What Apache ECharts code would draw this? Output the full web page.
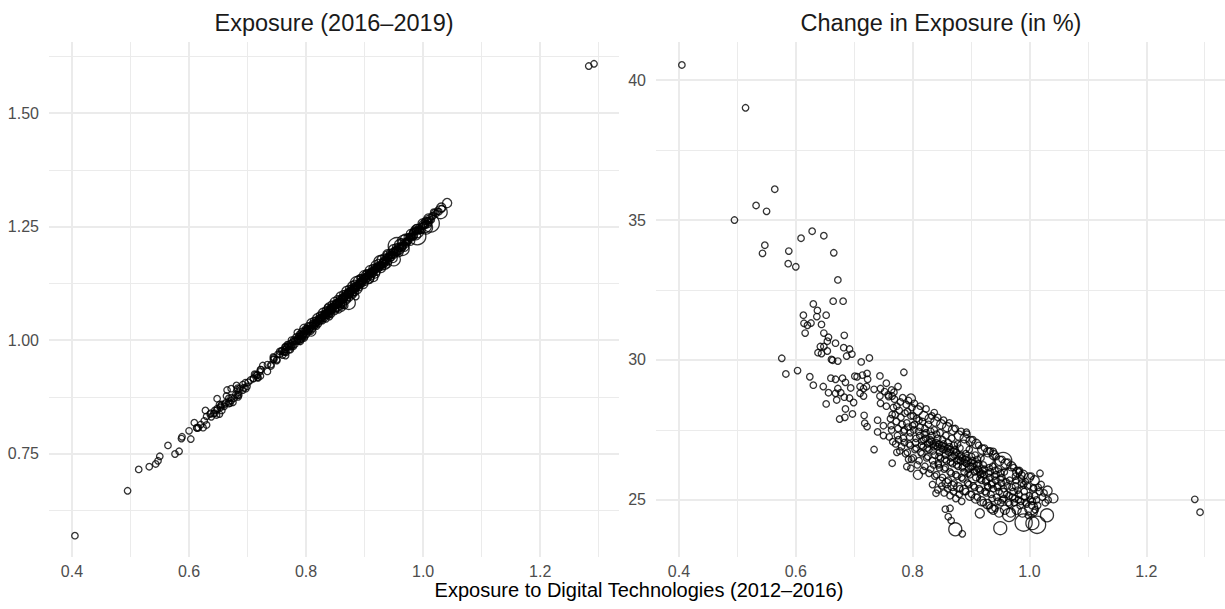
<!DOCTYPE html>
<html><head><meta charset="utf-8">
<script src="https://cdn.jsdelivr.net/npm/echarts@6/dist/echarts.min.js"></script>
<style>html,body{margin:0;padding:0;background:#fff;}#chart{width:1225px;height:609px;}</style>
</head><body><div id="chart"></div>
<script>
// Exposure to digital technologies 2012–2016 (x, shared by both panels)
const expo1216 = [
0.405,0.514,0.564,0.495,0.532,0.550,0.547,0.543,0.588,0.587,
0.600,0.609,0.628,0.648,0.665,0.672,0.664,0.681,0.630,0.637,
0.613,0.652,0.636,0.614,0.620,0.626,0.644,0.616,0.648,0.656,
0.654,0.683,0.668,0.642,0.648,0.682,0.692,0.638,0.644,0.654,
0.687,0.696,0.576,0.661,0.663,0.672,0.726,0.712,0.583,0.603,
0.624,0.630,0.647,0.660,0.668,0.680,0.685,0.701,0.705,0.714,
0.722,0.723,0.744,0.755,0.775,0.785,0.656,0.668,0.677,0.672,
0.694,0.710,0.716,0.721,0.734,0.745,0.752,0.764,0.765,0.710,
0.716,0.744,0.759,0.797,0.670,0.683,0.692,0.699,0.652,0.685,
0.675,0.684,0.697,0.717,0.718,0.722,0.734,0.740,0.765,0.750,
0.766,0.773,0.793,0.790,0.797,0.809,0.837,0.840,0.843,0.892,
0.938,0.955,0.982,0.987,1.007,1.031,1.041,1.009,0.856,0.864,
0.861,0.866,0.873,0.885,0.950,0.915,0.935,0.965,0.990,1.005,
1.013,1.030,1.003,1.283,1.292,0.990,
0.762,0.767,0.764,0.769,
0.772,0.777,0.774,0.779,0.771,
0.782,0.787,0.784,0.789,0.781,0.786,
0.792,0.797,0.794,0.799,0.791,0.796,
0.802,0.807,0.804,0.809,0.801,0.806,0.803,
0.812,0.817,0.814,0.819,0.811,0.816,0.813,0.818,
0.822,0.827,0.824,0.829,0.821,0.826,0.823,0.828,
0.832,0.837,0.834,0.839,0.831,0.836,0.833,0.838,0.835,
0.842,0.847,0.844,0.849,0.841,0.846,0.843,0.848,0.845,
0.852,0.857,0.854,0.859,0.851,0.856,0.853,0.858,0.855,0.850,
0.862,0.867,0.864,0.869,0.861,0.866,0.863,0.868,0.865,0.860,
0.872,0.877,0.874,0.879,0.871,0.876,0.873,0.878,0.875,0.870,
0.882,0.887,0.884,0.889,0.881,0.886,0.883,0.888,0.885,0.880,
0.892,0.897,0.894,0.899,0.891,0.896,0.893,0.898,0.895,
0.902,0.907,0.904,0.909,0.901,0.906,0.903,0.908,0.905,
0.912,0.917,0.914,0.919,0.911,0.916,0.913,0.918,0.915,
0.922,0.927,0.924,0.929,0.921,0.926,0.923,0.928,
0.932,0.937,0.934,0.939,0.931,0.936,0.933,0.938,
0.942,0.947,0.944,0.949,0.941,0.946,0.943,0.948,
0.952,0.957,0.954,0.959,0.951,0.956,0.953,
0.962,0.967,0.964,0.969,0.961,0.966,
0.972,0.977,0.974,0.979,0.971,0.976,
0.982,0.987,0.984,0.989,0.981,
0.992,0.997,0.994,0.999,0.991,
1.002,1.007,1.004,1.009,
1.012,1.017,1.014,
1.022,1.027,
1.032,
0.745,0.740,
0.755,0.750,0.758,
0.765,0.760,0.768,0.763,
0.775,0.770,0.778,0.773,0.776,
0.785,0.780,0.788,0.783,0.786,
0.795,0.790,0.798,0.793,0.796,0.791,
0.805,0.800,0.808,0.803,0.806,0.801,
0.815,0.810,0.818,0.813,0.816,0.811,0.819,
0.825,0.820,0.828,0.823,0.826,0.821,0.829,
0.835,0.830,0.838,0.833,0.836,0.831,0.839,0.834,
0.845,0.840,0.848,0.843,0.846,0.841,0.849,0.844,
0.855,0.850,0.858,0.853,0.856,0.851,0.859,0.854,
0.865,0.860,0.868,0.863,0.866,0.861,0.869,0.864,
0.875,0.870,0.878,0.873,0.876,0.871,0.879,0.874,
0.885,0.880,0.888,0.883,0.886,0.881,0.889,0.884,
0.895,0.890,0.898,0.893,0.896,0.891,0.899,
0.905,0.900,0.908,0.903,0.906,0.901,0.909,
0.915,0.910,0.918,0.913,0.916,0.911,0.919,
0.925,0.920,0.928,0.923,0.926,0.921,0.929,
0.935,0.930,0.938,0.933,0.936,0.931,
0.945,0.940,0.948,0.943,0.946,0.941,
0.955,0.950,0.958,0.953,0.956,0.951,
0.965,0.960,0.968,0.963,0.966,
0.975,0.970,0.978,0.973,0.976,
0.985,0.980,0.988,0.983,0.986,
0.995,0.990,0.998,0.993,
1.005,1.000,1.008,1.003,
1.015,1.010,1.018,
1.025,1.020
];
// Exposure 2016–2019 (left panel y)
const expo1619 = [
0.569,0.715,0.768,0.668,0.721,0.744,0.734,0.727,0.787,0.783,
0.800,0.818,0.845,0.871,0.890,0.893,0.877,0.900,0.832,0.839,
0.807,0.858,0.837,0.806,0.814,0.822,0.845,0.807,0.849,0.858,
0.855,0.894,0.872,0.838,0.846,0.890,0.902,0.831,0.839,0.852,
0.894,0.906,0.749,0.859,0.862,0.873,0.944,0.925,0.755,0.782,
0.807,0.813,0.835,0.854,0.864,0.880,0.885,0.907,0.912,0.924,
0.935,0.935,0.963,0.975,1.000,1.017,0.845,0.860,0.872,0.867,
0.895,0.916,0.923,0.930,0.946,0.961,0.969,0.985,0.985,0.915,
0.922,0.958,0.977,1.025,0.861,0.879,0.890,0.898,0.837,0.879,
0.863,0.875,0.893,0.918,0.917,0.921,0.931,0.943,0.966,0.955,
0.973,0.979,1.003,0.997,1.005,1.019,1.072,1.052,1.057,1.137,
1.189,1.207,1.237,1.243,1.263,1.292,1.302,1.263,1.067,1.077,
1.071,1.076,1.082,1.096,1.178,1.139,1.166,1.201,1.229,1.248,
1.257,1.282,1.251,1.604,1.609,1.243,
0.975,0.984,0.974,0.989,
0.987,0.996,0.985,1.001,0.979,
0.999,1.008,0.997,1.013,0.991,1.002,
1.011,1.020,1.008,1.025,1.002,1.014,
1.023,1.032,1.019,1.037,1.013,1.025,1.025,
1.034,1.044,1.031,1.048,1.025,1.037,1.037,1.038,
1.046,1.056,1.042,1.060,1.036,1.049,1.049,1.050,
1.057,1.067,1.054,1.072,1.048,1.061,1.060,1.061,1.060,
1.068,1.079,1.066,1.084,1.059,1.072,1.072,1.073,1.073,
1.080,1.091,1.077,1.096,1.071,1.084,1.083,1.085,1.085,1.067,
1.092,1.103,1.089,1.108,1.082,1.095,1.095,1.096,1.097,1.078,
1.104,1.114,1.100,1.119,1.094,1.107,1.107,1.108,1.109,1.090,
1.115,1.126,1.112,1.131,1.105,1.118,1.118,1.119,1.120,1.102,
1.127,1.137,1.123,1.143,1.116,1.130,1.130,1.131,1.131,
1.138,1.148,1.135,1.154,1.128,1.142,1.141,1.142,1.143,
1.150,1.160,1.146,1.165,1.140,1.153,1.153,1.154,1.153,
1.161,1.172,1.158,1.177,1.150,1.164,1.164,1.165,
1.172,1.182,1.169,1.189,1.162,1.176,1.176,1.176,
1.184,1.194,1.181,1.200,1.173,1.187,1.187,1.188,
1.196,1.206,1.193,1.211,1.188,1.199,1.199,
1.207,1.217,1.204,1.223,1.203,1.214,
1.218,1.228,1.217,1.234,1.215,1.225,
1.229,1.240,1.228,1.245,1.226,
1.241,1.251,1.242,1.257,1.242,
1.253,1.263,1.253,1.268,
1.265,1.274,1.265,
1.279,1.283,
1.290,
0.957,0.946,
0.969,0.957,0.976,
0.980,0.967,0.990,0.974,
0.989,0.986,0.986,0.992,0.987,
1.000,0.998,0.998,1.007,0.999,
1.012,1.009,1.009,1.019,1.011,1.014,
1.023,1.021,1.020,1.031,1.022,1.025,
1.035,1.032,1.031,1.043,1.033,1.037,1.041,
1.047,1.044,1.043,1.055,1.045,1.047,1.053,
1.058,1.055,1.055,1.066,1.055,1.059,1.065,1.047,
1.069,1.067,1.066,1.079,1.067,1.071,1.077,1.066,
1.081,1.079,1.078,1.091,1.080,1.082,1.089,1.070,
1.093,1.091,1.089,1.102,1.091,1.094,1.100,1.081,
1.105,1.103,1.101,1.114,1.102,1.106,1.111,1.093,
1.116,1.114,1.113,1.125,1.114,1.118,1.123,1.105,
1.127,1.125,1.124,1.137,1.125,1.128,1.135,
1.139,1.137,1.135,1.148,1.137,1.140,1.146,
1.151,1.149,1.147,1.159,1.148,1.152,1.157,
1.162,1.160,1.159,1.171,1.160,1.163,1.165,
1.174,1.171,1.169,1.183,1.170,1.174,
1.186,1.183,1.181,1.193,1.182,1.186,
1.196,1.195,1.194,1.205,1.195,1.198,
1.208,1.206,1.206,1.217,1.206,
1.219,1.217,1.219,1.227,1.228,
1.231,1.228,1.231,1.239,1.240,
1.242,1.240,1.242,1.248,
1.256,1.252,1.255,1.262,
1.273,1.259,1.282,
1.284,1.281
];
// Change in exposure, % (right panel y)
const changePct = [
40.54,39.01,36.10,35.00,35.52,35.31,34.10,33.81,33.89,33.44,
33.33,34.35,34.60,34.44,33.83,32.86,32.10,32.10,32.00,31.77,
31.60,31.60,31.55,31.31,31.24,31.32,31.27,30.96,30.96,30.81,
30.67,30.88,30.60,30.48,30.48,30.44,30.39,30.26,30.23,30.32,
30.14,30.21,30.06,30.02,29.99,29.96,30.07,29.93,29.50,29.62,
29.40,29.10,29.05,29.35,29.31,29.35,29.20,29.42,29.40,29.46,
29.52,29.31,29.43,29.17,29.05,29.56,28.83,28.81,28.83,28.98,
29.00,29.05,28.98,29.05,28.95,28.98,28.87,28.93,28.71,28.81,
28.71,28.71,28.69,28.62,28.57,28.67,28.64,28.48,28.43,28.25,
27.89,27.95,28.07,28.02,27.74,27.62,26.80,27.43,26.31,27.30,
27.08,26.70,26.45,26.19,26.13,25.90,28.12,25.24,25.36,27.42,
26.73,26.39,26.00,25.89,25.44,25.33,25.06,25.15,24.67,24.70,
24.40,24.26,23.95,23.79,23.99,24.52,24.70,24.46,24.19,24.17,
24.11,24.45,24.70,25.02,24.56,25.54,
27.9,28.3,27.5,28.6,
27.8,28.2,27.3,28.5,27.0,
27.7,28.1,27.2,28.4,26.9,27.5,
27.6,28.0,27.0,28.3,26.7,27.4,
27.5,27.9,26.8,28.2,26.5,27.2,27.7,
27.3,27.8,26.7,28.0,26.4,27.1,27.6,26.9,
27.2,27.7,26.5,27.9,26.2,27.0,27.4,26.8,
27.1,27.5,26.4,27.8,26.1,26.9,27.3,26.6,27.0,
26.9,27.4,26.3,27.7,25.9,26.7,27.2,26.5,27.0,
26.8,27.3,26.1,27.6,25.8,26.6,27.0,26.4,26.9,25.5,
26.7,27.2,26.0,27.5,25.7,26.5,26.9,26.3,26.8,25.4,
26.6,27.0,25.9,27.3,25.6,26.4,26.8,26.2,26.7,25.3,
26.4,26.9,25.8,27.2,25.4,26.2,26.6,26.0,26.5,25.2,
26.3,26.8,25.6,27.1,25.3,26.1,26.5,25.9,26.4,
26.2,26.6,25.5,27.0,25.2,26.0,26.4,25.8,26.3,
26.1,26.5,25.4,26.8,25.1,25.9,26.3,25.7,26.0,
25.9,26.4,25.3,26.7,24.9,25.7,26.1,25.5,
25.8,26.2,25.2,26.6,24.8,25.6,26.0,25.4,
25.7,26.1,25.1,26.4,24.7,25.5,25.9,25.3,
25.6,26.0,25.0,26.3,24.9,25.4,25.8,
25.5,25.9,24.9,26.2,25.2,25.7,
25.3,25.7,24.9,26.0,25.1,25.5,
25.2,25.6,24.8,25.9,25.0,
25.1,25.5,24.9,25.8,25.3,
25.0,25.4,24.8,25.7,
25.0,25.3,24.8,
25.1,24.9,
25.0,
28.45,27.85,
28.35,27.65,28.75,
28.05,27.25,28.85,27.65,
27.55,28.05,26.75,28.35,27.15,
27.45,27.95,26.65,28.65,27.05,
27.25,27.75,26.45,28.55,26.95,28.15,
27.05,27.65,26.25,28.45,26.85,28.00,
26.95,27.45,26.05,28.35,26.65,27.85,27.15,
26.85,27.35,25.95,28.25,26.55,27.55,27.05,
26.75,27.15,25.85,28.00,26.25,27.45,26.95,25.55,
26.55,27.05,25.65,27.95,26.15,27.35,26.85,26.25,
26.45,26.95,25.60,27.85,26.15,27.15,26.75,25.25,
26.35,26.85,25.50,27.75,25.95,27.05,26.55,25.15,
26.25,26.75,25.45,27.55,25.85,26.95,26.45,25.05,
26.15,26.55,25.35,27.45,25.75,26.85,26.35,24.95,
25.95,26.45,25.15,27.35,25.55,26.65,26.20,
25.85,26.35,25.05,27.15,25.45,26.55,26.05,
25.75,26.25,24.95,26.95,25.35,26.45,25.95,
25.65,26.05,24.85,26.85,25.25,26.25,25.45,
25.55,25.95,24.65,26.75,25.05,26.15,
25.45,25.85,24.55,26.55,24.95,26.05,
25.25,25.75,24.65,26.45,25.05,25.95,
25.15,25.65,24.55,26.35,24.85,
25.05,25.45,24.65,26.15,25.85,
24.95,25.35,24.55,26.05,25.75,
24.85,25.25,24.45,25.65,
24.95,25.15,24.55,25.85,
25.45,24.65,25.95,
25.25,25.55
];
// Relative weight of each region (drives circle area)
const weight = [
1,1,1,1,1,1,1,1,1,1,
1,1,1,1,1,1,1,1,1,1,
1,1,1,1,1,1,1,1,1,1,
1,1,1,1,1,1,1,1,1,1,
1,1,1,1,1,1,1,1,1,1,
1,1,1,1,1,1,1,1,1,1,
1,1,1,1,1,1,1,1,1,1,
1,1,1,1,1,1,1,1,1,1,
1,1,1,2,1,1,1,1,1,1,
1,1,1,1,1,1,1,1,1,1,
1,1,1,1,1,2,1,1,1,1,
1,7,1,1,1,2,2,1,1,1,
1,1,4,1,4,2,2,4,7,4,
7,4,4,1,1,1,
1,1,1,1,
1,1,1,1,1,
1,1,1,1,1,1,
1,1,1,1,1,1,
1,1,1,2,1,1,1,
1,1,1,2,1,1,1,1,
1,1,1,2,1,1,1,1,
1,1,1,2,1,1,1,1,1,
1,1,1,2,1,1,1,1,1,
1,1,1,2,1,1,1,1,1,1,
1,1,1,2,1,1,1,1,1,1,
1,1,1,2,1,1,1,1,1,1,
1,4,1,2,1,1,1,1,1,1,
1,1,1,2,1,1,1,1,1,
1,1,1,2,1,1,1,1,1,
1,1,1,2,1,1,1,1,1,
1,4,1,2,1,1,1,1,
1,1,1,2,1,1,1,1,
1,1,1,2,1,1,1,1,
1,1,1,2,1,1,1,
1,4,1,2,1,1,
1,1,1,2,1,1,
1,1,1,2,1,
1,1,1,2,1,
1,1,1,2,
1,1,1,
1,1,
1,
1,1,
1,1,1,
1,1,1,1,
1,1,1,1,1,
1,1,1,1,1,
1,1,1,1,1,1,
1,1,1,1,1,1,
1,1,1,1,1,1,1,
1,1,1,1,1,1,1,
1,1,1,1,1,1,1,1,
1,1,2,1,1,1,1,1,
1,1,2,1,1,1,1,1,
1,1,2,1,1,1,1,1,
1,1,2,1,1,1,1,1,
1,1,2,1,1,1,1,1,
1,1,2,1,1,1,1,
4,1,2,1,1,1,1,
1,1,2,1,1,1,1,
1,1,2,1,1,1,1,
1,1,2,1,1,1,
1,1,2,1,1,1,
2,1,2,1,1,1,
1,1,2,1,1,
1,1,2,1,1,
1,1,2,1,1,
1,4,1,1,
1,1,1,1,
1,1,1,
1,1
];

const xMajorTicks = [0.4, 0.6, 0.8, 1.0, 1.2];
const xMinorTicks = [0.5, 0.7, 0.9, 1.1, 1.3];
const yLeftMajor = [0.75, 1.00, 1.25, 1.50];
const yLeftMinor = [0.625, 0.875, 1.125, 1.375, 1.625];
const yRightMajor = [25, 30, 35, 40];
const yRightMinor = [27.5, 32.5, 37.5];

const titleLeft = 'Exposure (2016–2019)';
const titleRight = 'Change in Exposure (in %)';
const xTitle = 'Exposure to Digital Technologies (2012–2016)';

const FONT = '"Liberation Sans", Arial, Helvetica, sans-serif';
const GRID_COLOR = '#ebebeb';
const X_RANGE = [0.3607, 1.3347];
const YL_RANGE = [0.522, 1.657];
const YR_RANGE = [22.96, 41.36];

function mkAxis(dim, gridIndex, range, values, major, fmt) {
  return {
    type: 'value', gridIndex: gridIndex, min: range[0], max: range[1],
    position: dim === 'x' ? 'bottom' : 'left',
    scale: true,
    axisLine: { show: false },
    axisTick: { show: false, customValues: values },
    axisLabel: { show: major, customValues: values, formatter: fmt, color: '#4d4d4d',
      fontSize: 16, fontFamily: FONT, margin: dim === 'x' ? 6 : 10 },
    splitLine: { show: true, lineStyle: { color: GRID_COLOR, width: major ? 2 : 1 } },
    minorSplitLine: { show: false },
    splitArea: { show: false }
  };
}
const fx = v => Number(v).toFixed(1);
const fyl = v => Number(v).toFixed(2);
const fyr = v => String(Math.round(v));

const n = Math.min(expo1216.length, expo1619.length, changePct.length, weight.length);
const leftData = [], rightData = [];
for (let i = 0; i < n; i++) {
  leftData.push([expo1216[i], expo1619[i], weight[i]]);
  rightData.push([expo1216[i], changePct[i], weight[i]]);
}
const sym = v => 6.5 * Math.sqrt(v[2]);
const pointStyle = { color: 'rgba(0,0,0,0)', borderColor: '#000', borderWidth: 1.3 };

const chart = echarts.init(document.getElementById('chart'), null, { renderer: 'svg', width: 1225, height: 609 });
chart.setOption({
  backgroundColor: '#ffffff',
  animation: false,
  grid: [
    { left: 49, top: 42, width: 570, height: 515, outerBoundsMode: 'none', containLabel: false },
    { left: 656, top: 42, width: 569, height: 515, outerBoundsMode: 'none', containLabel: false }
  ],
  xAxis: [
    mkAxis('x', 0, X_RANGE, xMajorTicks, true, fx),
    mkAxis('x', 0, X_RANGE, xMinorTicks, false, fx),
    mkAxis('x', 1, X_RANGE, xMajorTicks, true, fx),
    mkAxis('x', 1, X_RANGE, xMinorTicks, false, fx)
  ],
  yAxis: [
    mkAxis('y', 0, YL_RANGE, yLeftMajor, true, fyl),
    mkAxis('y', 0, YL_RANGE, yLeftMinor, false, fyl),
    mkAxis('y', 1, YR_RANGE, yRightMajor, true, fyr),
    mkAxis('y', 1, YR_RANGE, yRightMinor, false, fyr)
  ],
  graphic: [
    { type: 'text', x: 334, y: 23, silent: true,
      style: { text: titleLeft, fill: '#1a1a1a', fontSize: 23.5, fontFamily: FONT,
        align: 'center', verticalAlign: 'middle', textAlign: 'center', textVerticalAlign: 'middle' } },
    { type: 'text', x: 941, y: 23, silent: true,
      style: { text: titleRight, fill: '#1a1a1a', fontSize: 23.5, fontFamily: FONT,
        align: 'center', verticalAlign: 'middle', textAlign: 'center', textVerticalAlign: 'middle' } },
    { type: 'text', x: 639, y: 590, silent: true,
      style: { text: xTitle, fill: '#000', fontSize: 20, fontFamily: FONT,
        align: 'center', verticalAlign: 'middle', textAlign: 'center', textVerticalAlign: 'middle' } }
  ],
  series: [
    { type: 'scatter', xAxisIndex: 0, yAxisIndex: 0, data: leftData, symbol: 'circle',
      symbolSize: sym, itemStyle: pointStyle, silent: true, emphasis: { disabled: true } },
    { type: 'scatter', xAxisIndex: 2, yAxisIndex: 2, data: rightData, symbol: 'circle',
      symbolSize: sym, itemStyle: pointStyle, silent: true, emphasis: { disabled: true } }
  ]
});
</script>
</body></html>
